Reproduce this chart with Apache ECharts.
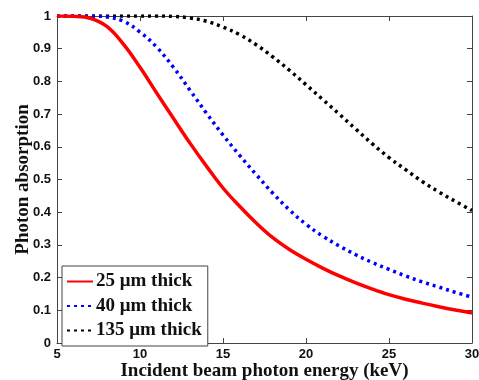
<!DOCTYPE html>
<html>
<head>
<meta charset="utf-8">
<script src="https://cdn.jsdelivr.net/npm/echarts@6/dist/echarts.min.js"></script>
<style>html,body{margin:0;padding:0;background:#fff;}#chart{width:479px;height:380px;}</style>
</head>
<body>
<div id="chart"></div>
<script>
const energy = [5,6,7,8,9,10,11,12,13,14,15,16,17,18,19,20,21,22,23,24,25,26,27,28,29,30];
const abs25 = [1.0,0.999,0.993,0.968,0.914,0.843,0.765,0.688,0.612,0.541,0.474,0.418,0.367,0.322,0.286,0.256,0.229,0.205,0.184,0.165,0.148,0.134,0.122,0.111,0.101,0.092];
const abs40 = [1.0,1.0,1.0,0.997,0.984,0.951,0.905,0.844,0.774,0.703,0.636,0.574,0.515,0.458,0.407,0.363,0.327,0.297,0.270,0.246,0.225,0.205,0.187,0.171,0.155,0.140];
const abs135 = [1.0,1.0,1.0,1.0,1.0,1.0,1.0,0.999,0.994,0.984,0.966,0.943,0.912,0.875,0.834,0.790,0.745,0.700,0.654,0.609,0.567,0.530,0.494,0.462,0.433,0.405];
const seriesNames = ['25 μm thick','40 μm thick','135 μm thick'];
const xTitle = 'Incident beam photon energy (keV)';
const yTitle = 'Photon absorption';

const pair = arr => energy.map((e,i)=>[e,arr[i]]);
const chart = echarts.init(document.getElementById('chart'));
const tickFont = {color:'#111', fontSize:13, fontWeight:'bold', fontFamily:'Liberation Sans, Arial, sans-serif'};
const titleFont = {color:'#111', fontSize:19, fontWeight:'bold', fontFamily:'Liberation Serif, Times New Roman, serif'};
const lineC = {lineStyle:{color:'#444', width:1}};
chart.setOption({
  animation:false,
  backgroundColor:'#fff',
  grid:{left:57, right:7, top:16, bottom:37, containLabel:false, outerBoundsMode:'none'},
  xAxis:[{
    type:'value', min:5, max:30, interval:5, position:'bottom',
    axisLine:{show:true, onZero:false, ...lineC},
    axisTick:{show:true, inside:true, length:5, lineStyle:{color:'#444'}},
    axisLabel:{...tickFont, margin:5},
    splitLine:{show:false},
    name:xTitle, nameLocation:'middle', nameGap:19, nameMoveOverlap:false, nameTextStyle:titleFont
  },{
    type:'value', min:5, max:30, interval:5, position:'top',
    axisLine:{show:true, onZero:false, ...lineC},
    axisTick:{show:true, inside:true, length:5, lineStyle:{color:'#444'}},
    axisLabel:{show:false}, splitLine:{show:false}
  }],
  yAxis:[{
    type:'value', min:0, max:1, interval:0.1, position:'left',
    axisLine:{show:true, onZero:false, ...lineC},
    axisTick:{show:true, inside:true, length:5, lineStyle:{color:'#444'}},
    axisLabel:{...tickFont, margin:6},
    splitLine:{show:false},
    name:yTitle, nameLocation:'middle', nameGap:24, nameMoveOverlap:false, nameTextStyle:titleFont
  },{
    type:'value', min:0, max:1, interval:0.1, position:'right',
    axisLine:{show:true, onZero:false, ...lineC},
    axisTick:{show:true, inside:true, length:5, lineStyle:{color:'#444'}},
    axisLabel:{show:false}, splitLine:{show:false}
  }],
  legend:{
    left:62, top:266, orient:'vertical',
    backgroundColor:'#fff', borderColor:'#444', borderWidth:1,
    padding:[6,6,6,4], itemGap:5.5, itemWidth:26, itemHeight:18,
    itemStyle:{opacity:0},
    textStyle:{...titleFont, padding:[0,0,0,-2]},
    data:seriesNames
  },
  series:[
    {name:seriesNames[0], type:'line', data:pair(abs25), smooth:0.4, showSymbol:false, symbol:'none',
     lineStyle:{color:'#ff0000', width:3.5}, itemStyle:{color:'#ff0000'}, z:3},
    {name:seriesNames[1], type:'line', data:pair(abs40), smooth:0.4, showSymbol:false, symbol:'none',
     lineStyle:{color:'#0000ff', width:3.5, type:[3,4]}, itemStyle:{color:'#0000ff'}, z:2},
    {name:seriesNames[2], type:'line', data:pair(abs135), smooth:0.4, showSymbol:false, symbol:'none',
     lineStyle:{color:'#000000', width:3.5, type:[3,4]}, itemStyle:{color:'#000000'}, z:1}
  ]
});
</script>
</body>
</html>
